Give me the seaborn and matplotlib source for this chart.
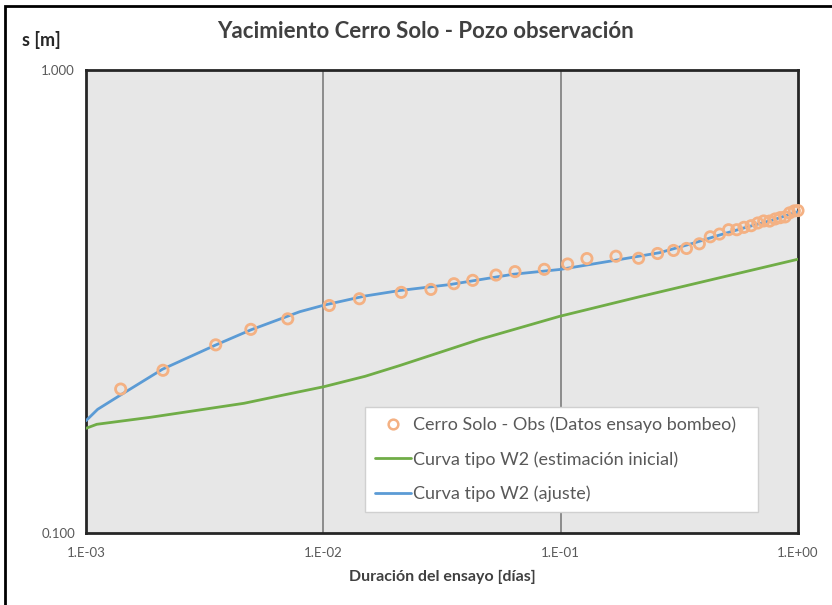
import numpy as np
import pandas as pd
import matplotlib
matplotlib.use('Agg')
import matplotlib.pyplot as plt
import matplotlib.ticker as mtick
from matplotlib.patches import Rectangle
from matplotlib.lines import Line2D
import seaborn as sns

# ── Data ──────────────────────────────────────────────────────
obs_t = [0.00140, 0.00211, 0.00352, 0.00495, 0.00708, 0.0106, 0.0142, 0.0213,
         0.0284, 0.0355, 0.0426, 0.0534, 0.0642, 0.0853, 0.107, 0.129, 0.171,
         0.213, 0.256, 0.299, 0.339, 0.384, 0.427, 0.467, 0.510, 0.552, 0.592,
         0.635, 0.677, 0.717, 0.759, 0.801, 0.841, 0.882, 0.921, 0.965, 1.0]
obs_s = [0.2046, 0.2246, 0.2549, 0.2753, 0.2901, 0.3100, 0.3206, 0.3309,
         0.3358, 0.3455, 0.3513, 0.3607, 0.3669, 0.3711, 0.3811, 0.3915, 0.3961,
         0.3921, 0.4015, 0.4076, 0.4117, 0.4213, 0.4363, 0.4422, 0.4519, 0.4519,
         0.4573, 0.4610, 0.4673, 0.4720, 0.4717, 0.4767, 0.4798, 0.4816, 0.4913,
         0.4963, 0.4970]

fit_t = [0.001, 0.00112, 0.00140, 0.00210, 0.00352, 0.00494, 0.00796, 0.0101,
         0.0150, 0.0210, 0.0341, 0.0628, 0.0991, 0.166, 0.261, 0.361, 0.467,
         0.605, 0.783, 1.0]
fit_s = [0.1748, 0.1850, 0.1987, 0.2258, 0.2547, 0.2745, 0.3006, 0.3107,
         0.3250, 0.3340, 0.3440, 0.3620, 0.3708, 0.3874, 0.4031, 0.4224, 0.4401,
         0.4574, 0.4743, 0.4943]

ini_t = [0.001, 0.00111, 0.00187, 0.00314, 0.00463, 0.00682, 0.01005, 0.0150,
         0.0210, 0.0456, 0.0991, 0.215, 0.467, 1.0]
ini_s = [0.1683, 0.1717, 0.1778, 0.1850, 0.1906, 0.1987, 0.2070, 0.2180,
         0.2300, 0.2620, 0.2938, 0.3238, 0.3558, 0.3902]

lbl_obs = "Cerro Solo - Obs (Datos ensayo bombeo)"
lbl_ini = "Curva tipo W2 (estimación inicial)"
lbl_fit = "Curva tipo W2 (ajuste)"

obs_df = pd.DataFrame({'t': obs_t, 's': obs_s})
fit_df = pd.DataFrame({'t': fit_t, 's': fit_s})
ini_df = pd.DataFrame({'t': ini_t, 's': ini_s})

# ── Style ─────────────────────────────────────────────────────
sns.set_style("white")
plt.rcParams['font.family'] = ['Lato', 'DejaVu Sans']
ORANGE = "#F4B183"
BLUE = "#5B9BD5"
GREEN = "#70AD47"
TXT = "#595959"

fig = plt.figure(figsize=(8.32, 6.05), dpi=100)
ax = fig.add_axes([86/832, 1-533/605, 712/832, 463/605])
ax.set_facecolor("#E7E7E7")

sns.lineplot(data=ini_df, x='t', y='s', ax=ax, color=GREEN, lw=2, zorder=3)
sns.lineplot(data=fit_df, x='t', y='s', ax=ax, color=BLUE, lw=2, zorder=3)
sns.scatterplot(data=obs_df, x='t', y='s', ax=ax, marker='o', s=55,
                facecolor='none', edgecolor=ORANGE, linewidth=2, zorder=4,
                clip_on=False)

ax.set_xscale('log')
ax.set_yscale('log')
ax.set_xlim(1e-3, 1)
ax.set_ylim(0.1, 1)

ax.xaxis.set_major_locator(mtick.FixedLocator([1e-3, 1e-2, 1e-1, 1]))
ax.xaxis.set_minor_locator(mtick.NullLocator())
ax.xaxis.set_major_formatter(mtick.FixedFormatter(['1.E-03', '1.E-02', '1.E-01', '1.E+00']))
ax.yaxis.set_major_locator(mtick.FixedLocator([0.1, 1]))
ax.yaxis.set_minor_locator(mtick.NullLocator())
ax.yaxis.set_major_formatter(mtick.FixedFormatter(['0.100', '1.000']))
ax.tick_params(axis='x', length=0, pad=10, labelsize=9.5, labelcolor=TXT)
ax.tick_params(axis='y', length=0, pad=8, labelsize=9.5, labelcolor=TXT)

for v in [1e-2, 1e-1]:
    ax.axvline(v, color="#8C8C8C", lw=1.4, zorder=1)

for sp in ax.spines.values():
    sp.set_visible(True)
    sp.set_color("#262626")
    sp.set_linewidth(2)

ax.set_xlabel("Duración del ensayo [días]", fontsize=11.5, fontweight='bold',
              color="#404040", labelpad=8)
ax.set_ylabel("")

fig.text(425/832, 1-32/605, "Yacimiento Cerro Solo - Pozo observación",
         ha='center', va='center', fontsize=16, fontweight='bold', color="#404040")
fig.text(22/832, 1-40/605, "s [m]", ha='left', va='center', fontsize=13,
         fontweight='bold', color="#262626")

handles = [
    Line2D([], [], ls='none', marker='o', markersize=7, markerfacecolor='none',
           markeredgecolor=ORANGE, markeredgewidth=1.8),
    Line2D([], [], color=GREEN, lw=2),
    Line2D([], [], color=BLUE, lw=2),
]
leg = ax.legend(handles, [lbl_obs, lbl_ini, lbl_fit],
                loc='lower left', bbox_to_anchor=(0.392, 0.045, 0.552, 0.242),
                mode='expand', fontsize=13, labelcolor=TXT, frameon=True,
                fancybox=False, handlelength=2.0, handletextpad=0.1,
                labelspacing=1.0, borderpad=0.55, borderaxespad=0)
leg.get_frame().set_facecolor('white')
leg.get_frame().set_edgecolor('#D0D0D0')
leg.get_frame().set_alpha(1)
leg.set_zorder(5)

# outer chart frame (cropped at right and bottom)
fig.patches.append(Rectangle((5/832, -0.1), 1.2, 1 - 6/605 + 0.1,
                             transform=fig.transFigure, fill=False,
                             edgecolor='black', lw=2))

plt.savefig("out.png", dpi=100)
plt.close()
